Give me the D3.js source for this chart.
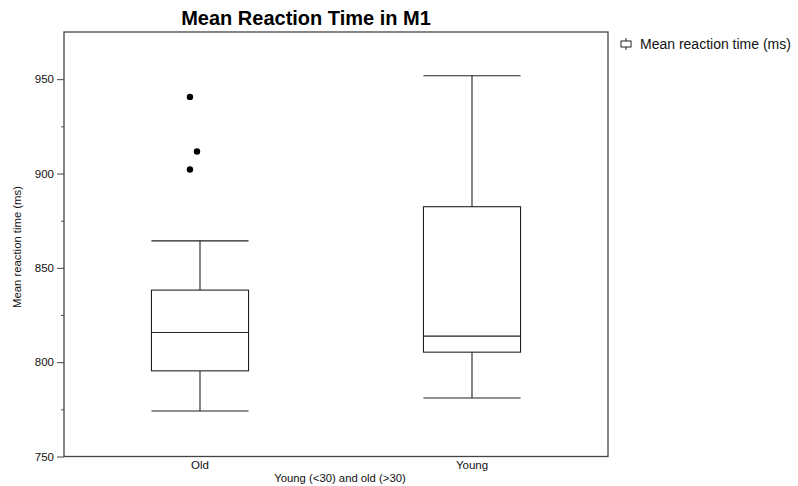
<!DOCTYPE html>
<html>
<head>
<meta charset="utf-8">
<script src="https://cdn.jsdelivr.net/npm/d3@7"></script>
<style>
  html, body { margin: 0; padding: 0; background: #fff; }
  svg { display: block; font-family: "Liberation Sans", Arial, Helvetica, sans-serif; }
</style>
</head>
<body>
<svg id="chart" width="798" height="486"></svg>
<script>
// ---- data ----
const categories = ["Old", "Young"];
const whiskerLow = [774.1, 781.0];
const q1 = [795.4, 805.3];
const median = [815.7, 813.8];
const q3 = [838.2, 882.4];
const whiskerHigh = [864.3, 951.8];
const outlierGroup = ["Old", "Old", "Old"];
const outlierValues = [940.6, 911.7, 902.1];
const outlierJitter = [-0.037, -0.011, -0.037];
const yMajorTicks = [750, 800, 850, 900, 950];
const yMinorTicks = [775, 825, 875, 925];
const yDomain = [750, 975];

const title = "Mean Reaction Time in M1";
const xTitle = "Young (<30) and old (>30)";
const yTitle = "Mean reaction time (ms)";
const legendLabel = "Mean reaction time (ms)";

// ---- layout ----
const svg = d3.select("#chart");
const margin = { left: 64, top: 32, right: 608, bottom: 456.5 };
const x = d3.scaleBand().domain(categories).range([margin.left, margin.right]).padding(0);
const y = d3.scaleLinear().domain(yDomain).range([margin.bottom, margin.top]);
const boxFrac = 0.357;
const stroke = "#222";

// minor ticks
svg.append("g")
  .attr("transform", `translate(${margin.left},0)`)
  .call(d3.axisLeft(y).tickValues(yMinorTicks).tickSize(3).tickFormat(""))
  .call(g => g.select(".domain").remove())
  .call(g => g.selectAll("line").attr("stroke", "#555"));

// major ticks
svg.append("g")
  .attr("transform", `translate(${margin.left},0)`)
  .call(d3.axisLeft(y).tickValues(yMajorTicks).tickSize(7).tickPadding(3).tickFormat(d3.format("d")))
  .call(g => g.select(".domain").remove())
  .call(g => g.selectAll("line").attr("stroke", "#444"))
  .call(g => g.selectAll("text").attr("font-size", "11.5px").attr("fill", "#111")
    .attr("font-family", '"Liberation Sans", Arial, sans-serif'));

// x axis labels
svg.append("g")
  .attr("transform", `translate(0,${margin.bottom})`)
  .call(d3.axisBottom(x).tickSize(0).tickPadding(4))
  .call(g => g.select(".domain").remove())
  .call(g => g.selectAll("text").attr("font-size", "11.5px").attr("fill", "#111")
    .attr("font-family", '"Liberation Sans", Arial, sans-serif'));

// plot frame
svg.append("rect")
  .attr("x", margin.left).attr("y", margin.top)
  .attr("width", margin.right - margin.left)
  .attr("height", margin.bottom - margin.top)
  .attr("fill", "none").attr("stroke", "#444").attr("stroke-width", 1.3);

// boxes
const bw = x.bandwidth() * boxFrac;
const g = svg.append("g");
categories.forEach((c, i) => {
  const cx = x(c) + x.bandwidth() / 2;
  g.append("line").attr("x1", cx).attr("x2", cx).attr("y1", y(whiskerHigh[i])).attr("y2", y(q3[i]))
    .attr("stroke", stroke).attr("stroke-width", 1.1);
  g.append("line").attr("x1", cx).attr("x2", cx).attr("y1", y(q1[i])).attr("y2", y(whiskerLow[i]))
    .attr("stroke", stroke).attr("stroke-width", 1.1);
  [whiskerHigh[i], whiskerLow[i]].forEach(v => {
    g.append("line").attr("x1", cx - bw / 2).attr("x2", cx + bw / 2).attr("y1", y(v)).attr("y2", y(v))
      .attr("stroke", stroke).attr("stroke-width", 1.1);
  });
  g.append("rect").attr("x", cx - bw / 2).attr("y", y(q3[i]))
    .attr("width", bw).attr("height", y(q1[i]) - y(q3[i]))
    .attr("fill", "#fff").attr("stroke", stroke).attr("stroke-width", 1.1);
  g.append("line").attr("x1", cx - bw / 2).attr("x2", cx + bw / 2).attr("y1", y(median[i])).attr("y2", y(median[i]))
    .attr("stroke", stroke).attr("stroke-width", 1.1);
});

// outliers
g.selectAll("circle.out").data(outlierValues).enter().append("circle")
  .attr("class", "out")
  .attr("cx", (d, i) => x(outlierGroup[i]) + x.bandwidth() * (0.5 + outlierJitter[i]))
  .attr("cy", d => y(d))
  .attr("r", 3.2).attr("fill", "#000");

// titles
svg.append("text").attr("x", 306).attr("y", 25).attr("text-anchor", "middle")
  .attr("font-size", "20px").attr("font-weight", "bold").attr("fill", "#000").text(title);
svg.append("text").attr("x", 340).attr("y", 482).attr("text-anchor", "middle")
  .attr("font-size", "11.3px").attr("fill", "#111").text(xTitle);
svg.append("text").attr("transform", "translate(21,247) rotate(-90)").attr("text-anchor", "middle")
  .attr("font-size", "11.3px").attr("fill", "#111").text(yTitle);

// legend
const lg = svg.append("g").attr("transform", "translate(626,44)");
lg.append("line").attr("x1", 0).attr("x2", 0).attr("y1", -6).attr("y2", 6).attr("stroke", "#222");
lg.append("rect").attr("x", -5).attr("y", -3).attr("width", 10).attr("height", 6)
  .attr("fill", "#fff").attr("stroke", "#222");
lg.append("text").attr("x", 14).attr("y", 5).attr("font-size", "14px").attr("fill", "#111").text(legendLabel);
</script>
</body>
</html>
